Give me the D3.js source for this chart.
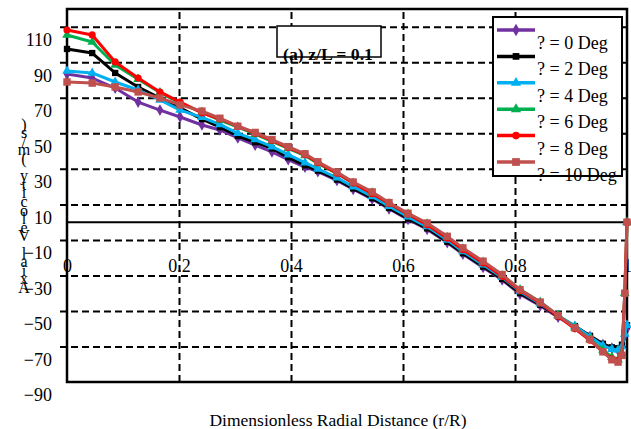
<!DOCTYPE html>
<html lang="en">
<head>
    <meta charset="UTF-8">
    <title>Axial velocity</title>
    <style>
        body { margin: 0; background: #fff; }
        svg, svg text { font-family: "Times New Roman", "Liberation Serif", Times, serif !important; }
    </style>
</head>
<body>
    <div id="chart"></div>
    <script src="https://d3js.org/d3.v7.min.js"></script>
    <script>
        // radial positions r/R
        const xs = [0, 0.045, 0.086, 0.127, 0.166, 0.202, 0.241, 0.273, 0.305, 0.336,
            0.366, 0.395, 0.425, 0.448, 0.482, 0.511, 0.545, 0.575, 0.609, 0.643,
            0.679, 0.707, 0.743, 0.777, 0.809, 0.845, 0.877, 0.907, 0.934, 0.957,
            0.973, 0.984, 0.991, 0.996, 1.0]

        const deg0 = [83.4, 81.1, 75.5, 67.6, 63.1, 59.2, 54.7, 51.9, 47.4, 43.4,
            39.5, 35.2, 31, 28.5, 23.5, 18.5, 13, 7.5, 1.5, -4,
            -11.5, -18, -25.5, -32.5, -40.5, -47, -53.5, -59, -64.5, -69,
            -71, -72, -70, -64, -60]
        const deg2 = [97.5, 95.2, 84, 76.1, 69.9, 64.3, 58, 53.5, 48.5, 45,
            41.5, 36.5, 32, 29, 24, 19, 13.5, 8, 2, -3.5,
            -11, -17.5, -25, -32, -40, -46.5, -53, -58.5, -64, -68.5,
            -70.5, -71, -69, -62, -58]
        const deg4 = [85.1, 84, 78.9, 74.4, 68.8, 63.1, 59, 55, 50, 46.5,
            42.5, 38, 33.5, 30, 25, 20, 14.5, 9, 3, -2.5,
            -10, -16.5, -24, -31, -39, -46, -52.5, -58.5, -64.5, -69.5,
            -71.5, -72, -70, -63, -58]
        const deg6 = [105.4, 101.4, 88.5, 80.5, 73, 67, 62, 57.5, 53.5, 49.5,
            45.5, 41.5, 37.5, 33, 27.5, 22, 16.5, 10.5, 4.5, -1,
            -8.5, -15, -22.5, -30, -38, -45, -52.5, -59.5, -66, -72,
            -76, -77.5, -74, -40, 0]
        const deg8 = [108.2, 105.4, 90.2, 81.1, 73.3, 67.6, 61.5, 58, 54, 50,
            46, 42, 38, 33.5, 27.5, 22, 16, 10.5, 4.5, -1.5,
            -9, -15.5, -23, -30.5, -38.5, -45.5, -53, -60, -66.5, -73,
            -77, -78, -75, -40, 0]
        const deg10 = [78.9, 78.3, 76.1, 73.3, 69.9, 66, 62.5, 58.5, 54, 50.5,
            46.5, 42.5, 38.5, 34, 28.2, 22.6, 17, 11, 5, -0.5,
            -8, -14.5, -22, -29.5, -38, -45, -52.5, -59.5, -66, -73,
            -77.5, -78.8, -75, -40, 0]

        const seriesNames = ['? = 0 Deg', '? = 2 Deg', '? = 4 Deg', '? = 6 Deg', '? = 8 Deg', '? = 10 Deg']
        const seriesValues = [deg0, deg2, deg4, deg6, deg8, deg10]
        const colors = ['#7030a0', '#000000', '#00b0f0', '#00b050', '#ff0000', '#c0504d']
        const shapes = [d3.symbolDiamond, d3.symbolSquare, d3.symbolTriangle, d3.symbolTriangle, d3.symbolCircle, d3.symbolSquare]

        const yTicks = [-90, -70, -50, -30, -10, 10, 30, 50, 70, 90, 110]
        const xTicks = [0, 0.2, 0.4, 0.6, 0.8, 1]
        const xTickLabels = ['0', '0.2', '0.4', '0.6', '0.8', '1']

        const serif = '"Times New Roman", "Liberation Serif", serif'
        const width = 631
        const height = 429
        const plot = { left: 67, right: 627, top: 9, bottom: 382 }

        const x = d3.scaleLinear().domain([0, 1]).range([plot.left, plot.right])
        const y = d3.scaleLinear().domain([-90, 120]).range([plot.bottom, plot.top])

        const svg = d3.select('#chart')
            .append('svg')
            .attr('width', width)
            .attr('height', height)
            .attr('font-family', serif)

        // dashed grid
        svg.append('g')
            .attr('transform', `translate(${plot.left},0)`)
            .call(d3.axisLeft(y).tickValues(yTicks.slice(1)).tickSize(0).tickFormat(''))
            .call(g => g.select('.domain').remove())
            .call(g => g.selectAll('line')
                .attr('x1', -7)
                .attr('x2', plot.right - plot.left)
                .attr('stroke', '#000')
                .attr('stroke-width', 2)
                .attr('stroke-dasharray', '7,4'))

        svg.append('g')
            .attr('transform', `translate(0,${plot.bottom})`)
            .call(d3.axisBottom(x).tickValues(xTicks.slice(1, -1)).tickSize(-(plot.bottom - plot.top)).tickFormat(''))
            .call(g => g.select('.domain').remove())
            .call(g => g.selectAll('line')
                .attr('stroke', '#000')
                .attr('stroke-width', 2)
                .attr('stroke-dasharray', '7,4'))

        // frame and zero line
        svg.append('rect')
            .attr('x', plot.left)
            .attr('y', plot.top)
            .attr('width', plot.right - plot.left)
            .attr('height', plot.bottom - plot.top)
            .attr('fill', 'none')
            .attr('stroke', '#000')
            .attr('stroke-width', 2.5)

        svg.append('line')
            .attr('x1', plot.left)
            .attr('x2', plot.right)
            .attr('y1', y(0))
            .attr('y2', y(0))
            .attr('stroke', '#000')
            .attr('stroke-width', 2)

        // y tick labels (sit a little below their grid lines, as in the source)
        svg.append('g')
            .attr('transform', `translate(${plot.left},0)`)
            .call(d3.axisLeft(y).tickValues(yTicks).tickSize(0).tickPadding(15))
            .call(g => g.select('.domain').remove())
            .call(g => g.selectAll('text')
                .attr('dy', '1.05em')
                .attr('font-family', serif)
                .attr('font-size', 18)
                .attr('fill', '#000'))

        // x tick labels
        svg.append('g')
            .attr('transform', `translate(0,${y(0)})`)
            .call(d3.axisBottom(x).tickValues(xTicks).tickSize(0).tickPadding(37).tickFormat((d, i) => xTickLabels[i]))
            .call(g => g.select('.domain').remove())
            .call(g => g.selectAll('text')
                .attr('font-family', serif)
                .attr('font-size', 18)
                .attr('fill', '#000'))

        // series
        const line = d3.line()
            .x((d, i) => x(xs[i]))
            .y(d => y(d))

        seriesValues.forEach((vals, k) => {
            svg.append('path')
                .datum(vals)
                .attr('d', line)
                .attr('fill', 'none')
                .attr('stroke', colors[k])
                .attr('stroke-width', 3)
                .attr('stroke-linejoin', 'round')
            svg.append('g')
                .selectAll('path')
                .data(vals)
                .join('path')
                .attr('transform', (d, i) => `translate(${x(xs[i])},${y(d)})`)
                .attr('d', d3.symbol().type(shapes[k]).size(k === 5 ? 55 : 40))
                .attr('fill', colors[k])
        })

        // title box
        svg.append('rect')
            .attr('x', 277)
            .attr('y', 26)
            .attr('width', 104)
            .attr('height', 31)
            .attr('fill', '#fff')
            .attr('stroke', '#000')
            .attr('stroke-width', 1.5)
        svg.append('text')
            .attr('x', 283)
            .attr('y', 60)
            .attr('font-size', 16)
            .attr('font-weight', 'bold')
            .attr('textLength', 90)
            .attr('lengthAdjust', 'spacingAndGlyphs')
            .text('(a) z/L = 0.1')

        // legend
        const legend = svg.append('g')
        legend.append('rect')
            .attr('x', 493)
            .attr('y', 17)
            .attr('width', 129)
            .attr('height', 159)
            .attr('fill', '#fff')
            .attr('stroke', '#000')
            .attr('stroke-width', 2)
        seriesNames.forEach((name, k) => {
            const ly = 30 + k * 26.4
            legend.append('line')
                .attr('x1', 497)
                .attr('x2', 535)
                .attr('y1', ly)
                .attr('y2', ly)
                .attr('stroke', colors[k])
                .attr('stroke-width', 3.5)
            legend.append('path')
                .attr('transform', `translate(516,${ly})`)
                .attr('d', d3.symbol().type(shapes[k]).size(k === 5 ? 60 : 45))
                .attr('fill', colors[k])
            legend.append('text')
                .attr('x', 537)
                .attr('y', ly + 19)
                .attr('font-size', 18)
                .text(name)
        })

        // axis titles
        svg.append('text')
            .attr('x', 338)
            .attr('y', 426)
            .attr('text-anchor', 'middle')
            .attr('font-size', 17.5)
            .text('Dimensionless Radial Distance (r/R)')

        // y title: characters stacked bottom to top
        const yTitle = 'Axial Velocity (m/s)'.split('')
        svg.append('g')
            .selectAll('text')
            .data(yTitle)
            .join('text')
            .attr('x', 24)
            .attr('y', (d, i) => 293 - i * 8.6)
            .attr('text-anchor', 'middle')
            .attr('font-size', 16)
            .text(d => d)
    </script>
</body>
</html>
